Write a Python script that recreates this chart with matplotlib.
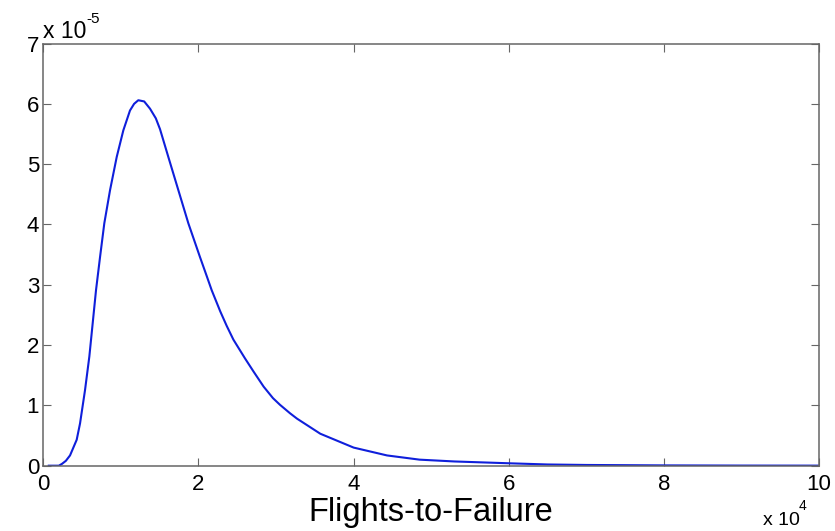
import matplotlib
matplotlib.use("Agg")
import matplotlib.pyplot as plt
from matplotlib.ticker import FuncFormatter

plt.rcParams["font.family"] = ["Liberation Sans", "DejaVu Sans"]

# Probability density of flights-to-failure (x in units of 1e4 flights, y in units of 1e-5)
flights_e4 = [0.07, 0.20, 0.24, 0.29, 0.344, 0.43, 0.473, 0.537, 0.593, 0.636,
              0.679, 0.731, 0.786, 0.860, 0.946, 1.031, 1.117, 1.17, 1.224, 1.30,
              1.375, 1.45, 1.504, 1.611, 1.740, 1.869, 2.019, 2.11, 2.170, 2.28,
              2.363, 2.45, 2.599, 2.71, 2.84, 2.96, 3.05, 3.179, 3.27, 3.57,
              4.00, 4.43, 4.85, 5.30, 6.00, 6.50, 7.00, 8.00, 9.00, 10.00]
density_e5 = [0.00, 0.00, 0.03, 0.08, 0.17, 0.43, 0.70, 1.25, 1.81, 2.36,
              2.91, 3.46, 4.02, 4.57, 5.12, 5.56, 5.89, 6.00, 6.06, 6.04,
              5.92, 5.76, 5.58, 5.12, 4.57, 4.02, 3.46, 3.13, 2.91, 2.56,
              2.32, 2.09, 1.78, 1.56, 1.31, 1.12, 1.01, 0.87, 0.78, 0.53,
              0.30, 0.17, 0.10, 0.07, 0.04, 0.02, 0.012, 0.005, 0.002, 0.001]

x_ticks = [0, 2, 4, 6, 8, 10]
y_ticks = [0, 1, 2, 3, 4, 5, 6, 7]

flights = [v * 1e4 for v in flights_e4]
density = [v * 1e-5 for v in density_e5]

fig = plt.figure(figsize=(8.35, 5.31), dpi=100)
ax = fig.add_axes([0.0519, 0.123, 0.9291, 0.795])

ax.plot(flights, density, color=(0.06, 0.12, 0.86), linewidth=1.5,
        solid_joinstyle="round")

ax.set_xlim(0, 1e5)
ax.set_ylim(0, 7e-5)
ax.set_xticks([t * 1e4 for t in x_ticks])
ax.set_yticks([t * 1e-5 for t in y_ticks])
ax.xaxis.set_major_formatter(FuncFormatter(lambda v, p: f"{v / 1e4:g}"))
ax.yaxis.set_major_formatter(FuncFormatter(lambda v, p: f"{v / 1e-5:g}"))

for s in ax.spines.values():
    s.set_color("#666666")
    s.set_linewidth(1.1)
ax.tick_params(direction="in", top=True, right=True, length=6,
               color="#666666", labelsize=16, labelcolor="black")
ax.tick_params(axis="y", pad=3)
ax.tick_params(axis="x", pad=6)

ax.set_xlabel("Flights-to-Failure", fontsize=23.5)
ax.xaxis.set_label_coords(0.5, -0.074)

# Axis multipliers
fig.text(43 / 835, 1 - 38.5 / 531, "x 10", fontsize=16.5, ha="left", va="baseline")
fig.text(86 / 835, 1 - 23 / 531, "-5", fontsize=11, ha="left", va="baseline")
fig.text(763 / 835, 1 - 525 / 531, "x 10", fontsize=14, ha="left", va="baseline")
fig.text(799 / 835, 1 - 510 / 531, "4", fontsize=10, ha="left", va="baseline")

fig.savefig("out.png", dpi=100, facecolor="white")
